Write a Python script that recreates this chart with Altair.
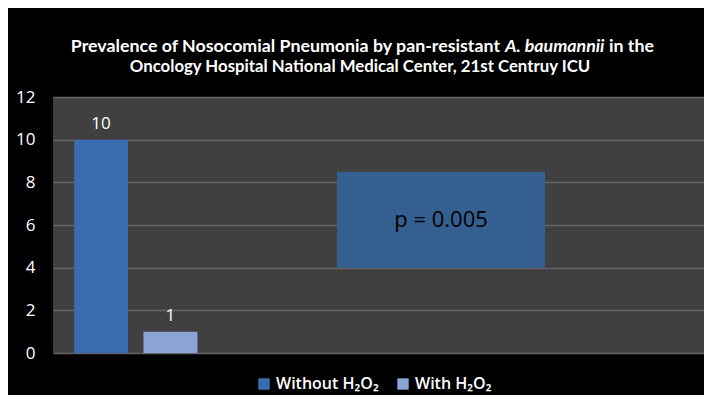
import altair as alt
import pandas as pd

categories = ["Jul-Oct", "Nov-Feb"]
series = ["Without H₂O₂", "With H₂O₂"]
values = [10, 1]
series_colors = ["#3a6cb2", "#8ba4d6"]
fillers = ["_3", "_4", "_5", "_6", "_7", "_8", "_9"]

annot_text = ["p = 0.005"]
annot_low = [4]
annot_high = [8.5]

title_parts = [
    "Prevalence of Nosocomial Pneumonia by pan-resistant",
    "A. baumannii",
    "in the",
    "Oncology Hospital National Medical Center, 21st Centruy ICU",
]

df = pd.DataFrame({"period": categories, "series": series, "value": values})
annot = pd.DataFrame({"label": annot_text, "low": annot_low, "high": annot_high})
annot["mid"] = (annot["low"] + annot["high"]) / 2
tdf = pd.DataFrame({"t": title_parts})

x_scale = alt.Scale(domain=categories + fillers, paddingInner=0.22, paddingOuter=0.303)
x_enc = alt.X(
    "period:N",
    scale=x_scale,
    axis=alt.Axis(
        title=None,
        labelExpr="indexof(datum.label, '_') == 0 ? '' : datum.label",
        labelAngle=0,
        labelColor="white",
        labelFont="Lato",
        labelFontWeight="bold",
        labelFontSize=11,
        labelPadding=12,
        ticks=False,
        domain=True,
        domainColor="#7a7a7a",
        domainWidth=1.5,
        grid=False,
    ),
)
y_scale = alt.Scale(domain=[0, 12])
y_axis = alt.Axis(
    title=None,
    values=[0, 2, 4, 6, 8, 10, 12],
    labelColor="white",
    labelFont="Open Sans",
    labelFontSize=17,
    labelPadding=18,
    ticks=False,
    domain=False,
    grid=True,
    gridColor="#646464",
    gridWidth=1.5,
)

bars = alt.Chart(df).mark_bar(size=54).encode(
    x=x_enc,
    y=alt.Y("value:Q", scale=y_scale, axis=y_axis),
    color=alt.Color(
        "series:N",
        scale=alt.Scale(domain=series, range=series_colors),
        legend=alt.Legend(
            title=None,
            orient="none",
            direction="horizontal",
            legendX=203,
            legendY=279,
            symbolType="square",
            symbolSize=130,
            symbolStrokeWidth=0,
            labelColor="white",
            labelFont="Open Sans",
            labelFontSize=16,
            labelFontWeight=600,
            columnPadding=16,
        ),
    ),
)

labels = alt.Chart(df).mark_text(
    color="white", font="Open Sans", fontSize=17, baseline="bottom", dy=-7
).encode(
    x=alt.X("period:N", scale=x_scale, axis=None),
    y=alt.Y("value:Q", scale=y_scale),
    text="value:Q",
)

box = alt.Chart(annot).mark_rect(color="#355f91").encode(
    x=alt.value(284),
    x2=alt.value(492),
    y=alt.Y("high:Q", scale=y_scale),
    y2="low:Q",
)

box_text = alt.Chart(annot).mark_text(
    color="black", font="Open Sans", fontSize=22
).encode(
    x=alt.value(388),
    y=alt.Y("mid:Q", scale=y_scale),
    text="label:N",
)


def title_piece(i, x, y, align, size, italic=False):
    extra = {"fontStyle": "italic"} if italic else {}
    return (
        alt.Chart(tdf)
        .transform_filter(alt.datum.t == title_parts[i])
        .mark_text(align=align, color="white", font="Lato", fontSize=size,
                   fontWeight="bold", baseline="alphabetic", **extra)
        .encode(x=alt.value(x), y=alt.value(y), text="t:N")
    )


t1 = title_piece(0, 447, -45, "right", 17.8)
t2 = title_piece(1, 452, -45, "left", 17.8, italic=True)
t3 = title_piece(2, 556, -45, "left", 17.8)
t4 = title_piece(3, 307, -25, "center", 16.8)

chart = (
    alt.layer(bars, labels, box, box_text, t1, t2, t3, t4)
    .properties(
        width=651,
        height=256,
        background="black",
        padding={"left": 45, "top": 89, "right": 0, "bottom": 42},
        autosize=alt.AutoSizeParams(type="none"),
    )
    .configure_view(fill="#404040", stroke=None)
)

chart.save("out.html", embed_options={"renderer": "svg", "actions": False})
